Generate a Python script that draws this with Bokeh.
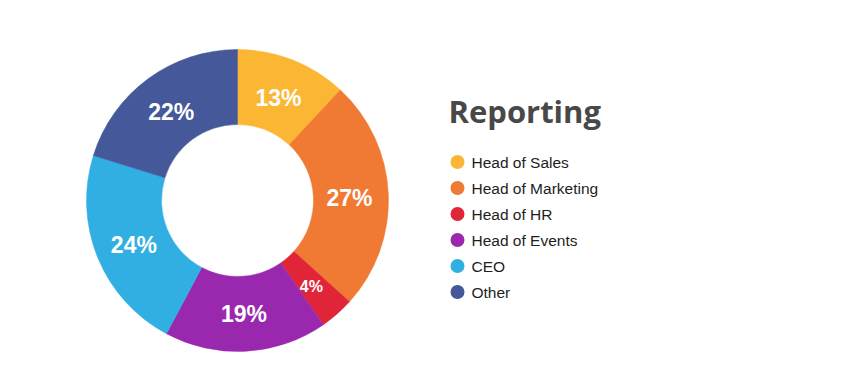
import numpy as np
from bokeh.plotting import figure
from bokeh.models import ColumnDataSource, Range1d
from bokeh.core.properties import value
from bokeh.embed import file_html
from bokeh.resources import INLINE

# ---- data ----
categories = ["Head of Sales", "Head of Marketing", "Head of HR", "Head of Events", "CEO", "Other"]
percents = [13, 27, 4, 19, 24, 22]
colors = ["#FBB734", "#F07A33", "#E02538", "#9928AF", "#31AFE2", "#44589A"]
title_text = "Reporting"

W, H = 826, 375
p = figure(width=W, height=H, output_backend="svg", toolbar_location=None,
           x_range=Range1d(0, W), y_range=Range1d(0, H), min_border=0)
p.axis.visible = False
p.grid.visible = False
p.outline_line_color = None
p.background_fill_color = "white"
p.border_fill_color = "white"

# donut geometry (layout)
cx, cy = 237, 175
r_in, r_out = 76, 151
r_lab = 112

vals = np.array(percents, dtype=float)
frac = vals / vals.sum()
cum = np.concatenate([[0], np.cumsum(frac)])
start = np.pi / 2 - 2 * np.pi * cum[:-1]
end = np.pi / 2 - 2 * np.pi * cum[1:]
mid = (start + end) / 2

src = ColumnDataSource(dict(x=[cx] * len(vals), y=[cy] * len(vals),
                            start=start, end=end, color=colors))
p.annular_wedge(x="x", y="y", inner_radius=r_in, outer_radius=r_out,
                start_angle="start", end_angle="end", direction="clock",
                fill_color="color", line_color="color", line_width=0.5, source=src)

lab = ColumnDataSource(dict(
    x=cx + r_lab * np.cos(mid), y=cy + r_lab * np.sin(mid) - 2,
    text=[f"{v}%" for v in percents],
    size=["16px" if v < 5 else "23px" for v in percents]))
p.text(x="x", y="y", text="text", source=lab, text_font=value("Liberation Sans"),
       text_font_style="bold", text_font_size="size", text_color="white",
       text_align="center", text_baseline="middle")

# title
p.text(x=[448], y=[265], text=[title_text], text_font=value("Open Sans"),
       text_font_style="bold", text_font_size="31px", text_color="#484848",
       text_align="left", text_baseline="alphabetic")

# legend
n = len(categories)
ly = 213.5 - 26 * np.arange(n)
leg = ColumnDataSource(dict(x=[457] * n, tx=[471] * n, y=ly, color=colors, text=categories))
p.scatter(x="x", y="y", size=14, marker="circle", fill_color="color", line_color=None, source=leg)
p.text(x="tx", y="y", text="text", source=leg, text_font=value("Liberation Sans"),
       text_font_size="15.5px", text_color="#1e1e1e", text_align="left", text_baseline="middle")

open("out.html", "w").write(file_html(p, INLINE))
